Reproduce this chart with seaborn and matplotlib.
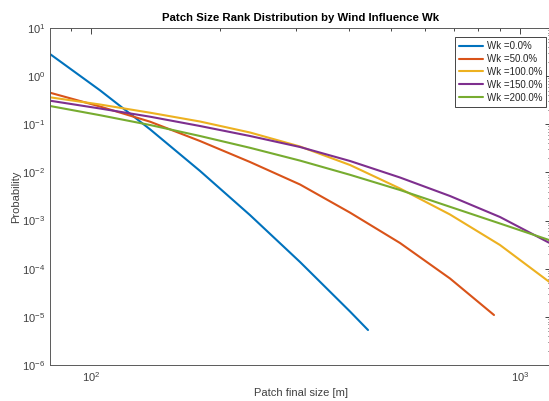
import numpy as np
import pandas as pd
import matplotlib
matplotlib.use("Agg")
import matplotlib.pyplot as plt
import seaborn as sns
from matplotlib.ticker import LogLocator, NullFormatter

# ---- data ----
labels = ["Wk =0.0%", "Wk =50.0%", "Wk =100.0%", "Wk =150.0%", "Wk =200.0%"]
colors = ["#0072BD", "#D95319", "#EDB120", "#7E2F8E", "#77AC30"]

x_wk0 = [80.25, 104.95, 137.3, 179.5, 234.8, 307.1, 401.6, 442.3]
y_wk0 = [2.88, 0.508, 0.0786, 0.01075, 0.001298, 1.378e-4, 1.291e-5, 5.33e-6]

x_wk50 = [80.25, 104.95, 137.3, 179.5, 234.8, 307.1, 401.6, 525.2, 686.9, 869.7]
y_wk50 = [0.453, 0.2340, 0.1132, 0.04494, 0.01646, 0.005613, 0.001463, 3.42e-4, 6.26e-5, 1.092e-5]

x_wk100 = [80.25, 104.95, 137.3, 179.5, 234.8, 307.1, 401.6, 525.2, 686.9, 898.2, 1168.6]
y_wk100 = [0.3635, 0.2576, 0.1740, 0.1142, 0.06750, 0.03455, 0.01426, 0.004634, 0.001336, 3.107e-4, 5.37e-5]

x_wk150 = [80.25, 104.95, 137.3, 179.5, 234.8, 307.1, 401.6, 525.2, 686.9, 898.2, 1168.6]
y_wk150 = [0.309, 0.2127, 0.1437, 0.0921, 0.05709, 0.03373, 0.01727, 0.007842, 0.003236, 0.001186, 3.47e-4]

x_wk200 = [80.25, 104.95, 137.3, 179.5, 234.8, 307.1, 401.6, 525.2, 686.9, 898.2, 1168.6]
y_wk200 = [0.2397, 0.1544, 0.0966, 0.05709, 0.03246, 0.01760, 0.008925, 0.004313, 0.001931, 8.69e-4, 3.95e-4]

xs = [x_wk0, x_wk50, x_wk100, x_wk150, x_wk200]
ys = [y_wk0, y_wk50, y_wk100, y_wk150, y_wk200]

frames = []
for lab, xv, yv in zip(labels, xs, ys):
    frames.append(pd.DataFrame({"size": xv, "prob": yv, "series": lab}))
df = pd.concat(frames, ignore_index=True)

# ---- styling ----
sns.set_style("white")
plt.rcParams["font.family"] = ["Liberation Sans", "DejaVu Sans"]
plt.rcParams["mathtext.fontset"] = "custom"
plt.rcParams["mathtext.rm"] = "Liberation Sans"
plt.rcParams["mathtext.it"] = "Liberation Sans"

axcol = "#262626"
W, H = 549, 401
fig = plt.figure(figsize=(W / 100, H / 100), dpi=100)
left, right, top, bottom = 50, 551, 28, 365
ax = fig.add_axes([left / W, 1 - bottom / H, (right - left) / W, (bottom - top) / H])

sns.lineplot(data=df, x="size", y="prob", hue="series", hue_order=labels,
             palette=colors, estimator=None, sort=False, linewidth=1.5,
             ax=ax, legend=False)

ax.set_xscale("log")
ax.set_yscale("log")
ax.set_xlim(80.25, 1181)
ax.set_ylim(1e-6, 10)

ax.yaxis.set_major_locator(LogLocator(base=10, numticks=20))
ax.yaxis.set_minor_locator(LogLocator(base=10, subs=np.arange(2, 10), numticks=20))
ax.yaxis.set_minor_formatter(NullFormatter())
ax.xaxis.set_minor_locator(LogLocator(base=10, subs=np.arange(2, 10), numticks=20))
ax.xaxis.set_minor_formatter(NullFormatter())

ax.tick_params(which="both", direction="in", top=True, right=True,
               colors=axcol, labelcolor="#404040", labelsize=8, width=0.6)
ax.tick_params(which="major", length=4)
ax.tick_params(which="minor", length=2)
for sp in ax.spines.values():
    sp.set_color("#5a5a5a")
    sp.set_linewidth(0.7)

ax.set_title("Patch Size Rank Distribution by Wind Influence Wk",
             fontsize=8.2, fontweight="bold", color="black", pad=5)
ax.set_xlabel("Patch final size [m]", fontsize=8, color="#404040", labelpad=3)
ax.set_ylabel("Probability", fontsize=8, color="#404040", labelpad=1)

handles = [plt.Line2D([], [], color=c, lw=1.5) for c in colors]
leg = ax.legend(handles, labels, loc="upper right", bbox_to_anchor=(0.990, 0.973),
                borderaxespad=0, fontsize=7, frameon=True, fancybox=False,
                framealpha=1, edgecolor="#262626", handlelength=2.4,
                handletextpad=0.4, labelspacing=0.3, borderpad=0.4)
leg.get_frame().set_linewidth(0.6)

fig.savefig("out.png", dpi=100)
